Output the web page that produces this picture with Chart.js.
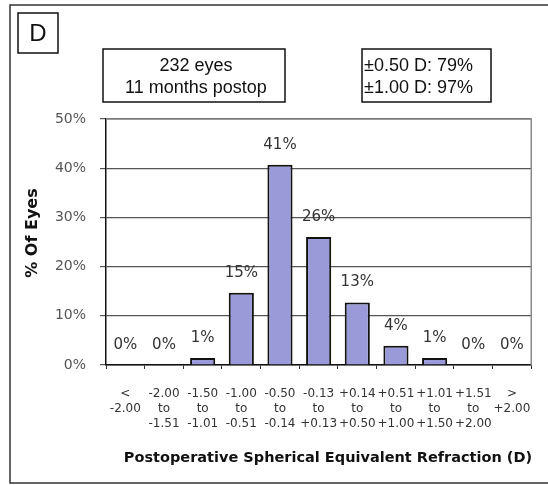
<!DOCTYPE html>
<html>
<head>
<meta charset="utf-8">
<script src="https://cdn.jsdelivr.net/npm/chart.js"></script>
<style>
  html, body { margin: 0; padding: 0; background: #fff; }
  #wrap { width: 548px; height: 485px; position: relative; }
</style>
</head>
<body>
<div id="wrap"><canvas id="c" width="548" height="485"></canvas></div>
<script>
// Refraction bins (D) and % of eyes in each
const categories = [
  ['<', '-2.00'], ['-2.00', 'to', '-1.51'], ['-1.50', 'to', '-1.01'], ['-1.00', 'to', '-0.51'],
  ['-0.50', 'to', '-0.14'], ['-0.13', 'to', '+0.13'], ['+0.14', 'to', '+0.50'], ['+0.51', 'to', '+1.00'],
  ['+1.01', 'to', '+1.50'], ['+1.51', 'to', '+2.00'], ['>', '+2.00']
];
const percentEyes = [0, 0, 1.4, 14.7, 40.7, 26.0, 12.7, 3.9, 1.4, 0, 0];
const valueLabels = ['0%', '0%', '1%', '15%', '41%', '26%', '13%', '4%', '1%', '0%', '0%'];
const yTicks = [0, 10, 20, 30, 40, 50];

const panelLetter = 'D';
const infoLeft = ['232 eyes', '11 months postop'];
const infoRight = ['\u00b10.50 D: 79%', '\u00b11.00 D: 97%'];
const xTitle = 'Postoperative Spherical Equivalent Refraction (D)';
const yTitle = '% Of Eyes';

const FONT = "'DejaVu Sans', Verdana, sans-serif";
const BOXFONT = "'Liberation Sans', Arial, sans-serif";

// frame, panel letter, text boxes, axis titles and bar labels
const decorations = {
  id: 'decorations',
  beforeDraw(chart) {
    const ctx = chart.ctx;
    ctx.save();
    ctx.fillStyle = '#fff';
    ctx.fillRect(0, 0, chart.width, chart.height);
    ctx.strokeStyle = '#333';
    ctx.lineWidth = 1.5;
    ctx.strokeRect(10, 5, 560, 478);
    ctx.strokeStyle = '#111';
    ctx.strokeRect(18, 13, 40, 40);
    ctx.strokeRect(103, 49, 182, 53);
    ctx.strokeRect(362, 49, 129, 53);
    ctx.fillStyle = '#111';
    ctx.textBaseline = 'middle';
    ctx.font = '24px ' + BOXFONT;
    ctx.textAlign = 'center';
    ctx.fillText(panelLetter, 38, 34);
    ctx.font = '18px ' + BOXFONT;
    ctx.fillText(infoLeft[0], 196, 66);
    ctx.fillText(infoLeft[1], 196, 88);
    ctx.textAlign = 'left';
    ctx.fillText(infoRight[0], 364, 66);
    ctx.fillText(infoRight[1], 364, 88);

    // axis titles
    ctx.font = 'bold 14.5px ' + FONT;
    ctx.textAlign = 'center';
    ctx.fillText(xTitle, 328, 458);
    ctx.translate(33, 233);
    ctx.rotate(-Math.PI / 2);
    ctx.font = 'bold 16px ' + FONT;
    ctx.fillText(yTitle, 0, 0);
    ctx.restore();
  },
  beforeDatasetsDraw(chart) {
    const a = chart.chartArea;
    const ctx = chart.ctx;
    ctx.save();
    ctx.strokeStyle = '#888';
    ctx.lineWidth = 1.5;
    ctx.beginPath();
    ctx.moveTo(a.left, a.top);
    ctx.lineTo(a.right, a.top);
    ctx.lineTo(a.right, a.bottom);
    ctx.stroke();
    ctx.restore();
  },
  afterDatasetsDraw(chart) {
    const ctx = chart.ctx;
    const meta = chart.getDatasetMeta(0);
    ctx.save();
    ctx.fillStyle = '#333';
    ctx.font = '15px ' + FONT;
    ctx.textAlign = 'center';
    ctx.textBaseline = 'middle';
    meta.data.forEach((bar, i) => {
      ctx.fillText(valueLabels[i], bar.x, bar.y - 20);
    });
    ctx.restore();
  }
};

new Chart(document.getElementById('c'), {
  type: 'bar',
  data: {
    labels: categories,
    datasets: [{
      data: percentEyes,
      backgroundColor: '#9a9ad8',
      borderColor: '#111',
      borderWidth: 2,
      borderSkipped: 'bottom',
      categoryPercentage: 1,
      barPercentage: 0.65
    }]
  },
  options: {
    responsive: false,
    animation: false,
    events: [],
    layout: { padding: { left: 20, top: 119, right: 15, bottom: 15 } },
    plugins: { legend: { display: false }, tooltip: { enabled: false } },
    scales: {
      x: {
        afterFit(s) { s.height = 105; },
        grid: { offset: true, drawOnChartArea: false, drawTicks: true, tickLength: 4, color: '#333', lineWidth: 1 },
        border: { color: '#111', width: 1.5 },
        ticks: { color: '#333', font: { family: FONT, size: 12, lineHeight: 1.25 }, padding: 17, maxRotation: 0, autoSkip: false },
        title: { display: false }
      },
      y: {
        min: 0, max: 50,
        afterFit(s) { s.width = 86; },
        afterBuildTicks(s) { s.ticks = yTicks.map(v => ({ value: v })); },
        grid: { color: '#555', lineWidth: 1.2, tickLength: 6 },
        border: { color: '#111', width: 1.5 },
        ticks: { color: '#555', font: { family: FONT, size: 14 }, padding: 14, callback: v => v + '%' },
        title: { display: false }
      }
    }
  },
  plugins: [decorations]
});
</script>
</body>
</html>
